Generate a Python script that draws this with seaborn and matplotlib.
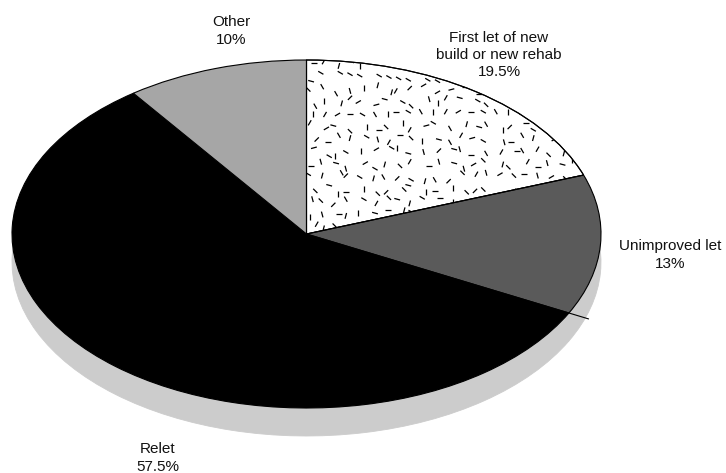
import numpy as np
import matplotlib
matplotlib.use("Agg")
import matplotlib.pyplot as plt
from matplotlib.collections import LineCollection
from matplotlib.patches import Wedge
import seaborn as sns

# Letting types
categories = ["First let of new\nbuild or new rehab", "Unimproved let", "Relet", "Other"]
shares = [19.5, 13.0, 57.5, 10.0]
share_labels = ["19.5%", "13%", "57.5%", "10%"]

sns.set_theme(style="white")
plt.rcParams["font.family"] = ["Liberation Sans", "DejaVu Sans"]

W, H = 726, 473
fig = plt.figure(figsize=(W / 100, H / 100), dpi=100)
ax = fig.add_axes([0, 0, 1, 1])

# ellipse geometry (pixel space): centre and radii
CX, CY, RX, RY = 306.5, 234.0, 294.5, 174.0
DROP = 28.0  # depth of the tilted-disc shadow, px


def to_data(x, y):
    return (x - CX) / RX, (CY - y) / RY


fill_colors = ["white", "#5a5a5a", "black", "#a6a6a6"]

# shadow disc underneath
ax.pie(shares, colors=["#cccccc"] * len(shares), startangle=90, counterclock=False,
       center=(0, -DROP / RY),
       wedgeprops=dict(edgecolor="#cccccc", linewidth=0.6))

wedges, _ = ax.pie(shares, colors=fill_colors, startangle=90, counterclock=False,
                   wedgeprops=dict(edgecolor="black", linewidth=0.8))

ax.set_aspect("auto")
ax.set_xlim(-CX / RX, (W - CX) / RX)
ax.set_ylim((CY - H) / RY, CY / RY)
ax.axis("off")

# speckled dash texture for the first-let wedge
segs = []
step = 12.5
half = 3.0
for j, yy in enumerate(np.arange(52.0, 250.0, step)):
    for i, xx in enumerate(np.arange(300.0, 610.0, step)):
        h = (i * 7919 + j * 104729 + i * j * 31) % 997
        jx = ((h % 7) - 3) * 1.4
        jy = (((h // 7) % 7) - 3) * 1.4
        ang = np.deg2rad(((h // 49) % 12) * 15.0)
        x0, y0 = xx + jx, yy + jy
        dx, dy = half * np.cos(ang), half * np.sin(ang)
        p0 = to_data(x0 - dx, y0 - dy)
        p1 = to_data(x0 + dx, y0 + dy)
        segs.append([p0, p1])
dash = LineCollection(segs, colors="black", linewidths=0.9, zorder=wedges[0].get_zorder() + 0.1)
dash.set_clip_path(wedges[0])
ax.add_collection(dash)

# outline redrawn on top of the texture
w0 = wedges[0]
ax.add_patch(Wedge(w0.center, w0.r, w0.theta1, w0.theta2, facecolor="none",
                   edgecolor="black", linewidth=0.8, zorder=dash.get_zorder() + 0.1))

# side edge where unimproved meets relet
theta = np.deg2rad(90 - 360 * (shares[0] + shares[1]) / 100)
ax.plot([np.cos(theta), 1.075 * np.cos(theta)], [np.sin(theta), 1.075 * np.sin(theta)],
        color="black", linewidth=0.8)

# category labels
label_pos = [(499, 55), (670, 255), (158, 458), (231, 31)]
for name, pct, (lx, ly) in zip(categories, share_labels, label_pos):
    tx, ty = to_data(lx, ly)
    ax.text(tx, ty, f"{name}\n{pct}", ha="center", va="center", fontsize=11,
            color="#111111", linespacing=1.3)

fig.savefig("out.png", dpi=100)
